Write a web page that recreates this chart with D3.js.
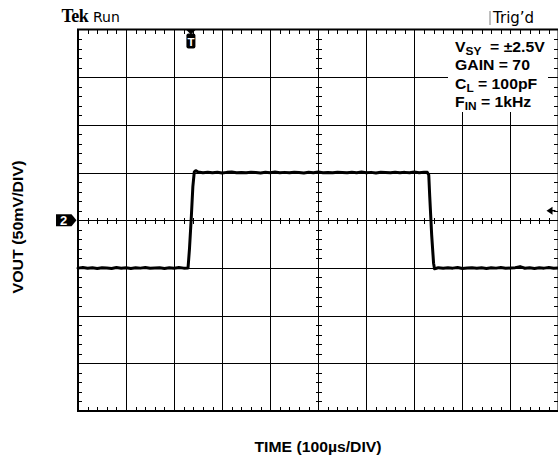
<!DOCTYPE html>
<html>
<head>
<meta charset="utf-8">
<script src="https://cdn.jsdelivr.net/npm/d3@7"></script>
<style>
  html, body { margin: 0; padding: 0; background: #fff; }
  svg { display: block; }
  text { white-space: pre; }
</style>
</head>
<body>
<div id="chart"></div>
<script>
// Scope screen: 10 horizontal divisions of 100 µs, 8 vertical divisions of 50 mV
const timeTicksUs = [0, 100, 200, 300, 400, 500, 600, 700, 800, 900, 1000];
const voltTicksMv = [-200, -150, -100, -50, 0, 50, 100, 150, 200];
const minorTimeStepUs = 20;
const minorVoltStepMv = 10;

// Captured output trace (time in µs, VOUT in mV)
const traceTimeUs = [
  0, 10, 20, 30, 40, 50, 60, 70, 80, 90, 100, 110, 120, 130, 140, 150, 160, 170, 180, 190, 200, 210, 220, 229,
  232, 236, 239, 242, 245, 250,
  260, 270, 280, 290, 300, 310, 320, 330, 340, 350, 360, 370, 380, 390, 400, 410, 420, 430, 440, 450,
  460, 470, 480, 490, 500, 510, 520, 530, 540, 550, 560, 570, 580, 590, 600, 610, 620, 630, 640, 650,
  660, 670, 680, 690, 700, 710, 720, 727,
  730, 732, 736, 740, 742, 746,
  750, 760, 770, 780, 790, 800, 810, 820, 830, 840, 850, 860, 870, 880, 890, 900, 910, 920, 930, 940,
  950, 960, 970, 980, 990, 1000
];
const traceMv = [
  -50.2, -49.6, -50.4, -49.8, -50.6, -49.7, -50.1, -50.5, -49.6, -50.3, -49.9, -50.6, -49.8, -50.2, -49.5, -50.4, -50.0, -49.7, -50.5, -49.9, -50.3, -49.6, -50.2, -50.0,
  -30, 5, 35, 50.8, 52.0, 50.6,
  49.8, 50.4, 49.9, 50.3, 49.6, 50.2, 50.5, 49.8, 50.1, 49.7, 50.4, 50.0, 49.6, 50.3, 49.9, 50.5, 49.8, 50.2, 49.7, 50.4,
  50.0, 49.6, 50.3, 49.9, 50.6, 49.8, 50.1, 49.7, 50.4, 50.0, 49.7, 50.3, 49.9, 50.5, 49.8, 50.2, 49.6, 50.3, 50.0, 49.8,
  50.4, 49.9, 50.2, 49.7, 50.5, 49.9, 50.3, 50.2,
  47.5, 25, -15, -45, -50.8, -50.3,
  -49.7, -50.4, -49.9, -50.2, -49.6, -50.5, -50.0, -49.7, -50.3, -49.9, -50.6, -49.8, -50.2, -49.6, -50.4, -50.0, -49.7, -48.6, -50.3, -49.8,
  -50.5, -49.9, -50.2, -49.6, -50.3, -50.0
];

const triggerTimeUs = 235;
const triggerLevelMv = 10;
const channelLabel = "2";

const statusLeft = ["Tek", "Run"];
const statusRight = "Trig’d";
const xAxisTitle = "TIME (100µs/DIV)";
const yAxisTitle = "VOUT (50mV/DIV)";
// Each condition line: main text, subscript, remainder
const conditionLines = [
  ["V", "SY", "  = ±2.5V"],
  ["GAIN = 70", "", ""],
  ["C", "L", " = 100pF"],
  ["F", "IN", " = 1kHz"]
];

const W = 558, H = 457;
const plot = { left: 78, right: 558.5, top: 29.5, bottom: 411 };

const svg = d3.select("#chart").append("svg")
  .attr("width", W).attr("height", H)
  .attr("viewBox", `0 0 ${W} ${H}`);

const x = d3.scaleLinear().domain([timeTicksUs[0], timeTicksUs[timeTicksUs.length - 1]]).range([plot.left, plot.right]);
const y = d3.scaleLinear().domain([voltTicksMv[0], voltTicksMv[voltTicksMv.length - 1]]).range([plot.bottom, plot.top]);

const snap = v => Math.round(v) + 0.5;

// Major graticule
const grid = svg.append("g").attr("stroke", "#000").attr("stroke-width", 1).attr("shape-rendering", "crispEdges");
grid.selectAll("line.v").data(timeTicksUs.slice(1, -1)).join("line")
  .attr("x1", d => snap(x(d))).attr("x2", d => snap(x(d)))
  .attr("y1", plot.top).attr("y2", plot.bottom);
grid.selectAll("line.h").data(voltTicksMv.slice(1, -1)).join("line")
  .attr("x1", plot.left).attr("x2", plot.right)
  .attr("y1", d => snap(y(d))).attr("y2", d => snap(y(d)));

// Minor ticks on center axes and along the border
const minorT = d3.range(timeTicksUs[0], timeTicksUs[timeTicksUs.length - 1] + 1, minorTimeStepUs)
  .filter(t => t % 100 !== 0);
const minorV = d3.range(voltTicksMv[0], voltTicksMv[voltTicksMv.length - 1] + 1, minorVoltStepMv)
  .filter(v => v % 50 !== 0);
const ticks = svg.append("g").attr("stroke", "#000").attr("stroke-width", 1.2).attr("shape-rendering", "crispEdges");
const cx = snap(x(500)), cy = snap(y(0));
minorT.forEach(t => {
  const px = snap(x(t));
  ticks.append("line").attr("x1", px).attr("x2", px).attr("y1", cy - 3).attr("y2", cy + 3);
  ticks.append("line").attr("x1", px).attr("x2", px).attr("y1", plot.top).attr("y2", plot.top + 4);
  ticks.append("line").attr("x1", px).attr("x2", px).attr("y1", plot.bottom - 4).attr("y2", plot.bottom);
});
minorV.forEach(v => {
  const py = snap(y(v));
  ticks.append("line").attr("x1", cx - 3).attr("x2", cx + 3).attr("y1", py).attr("y2", py);
  ticks.append("line").attr("x1", plot.left).attr("x2", plot.left + 4).attr("y1", py).attr("y2", py);
  ticks.append("line").attr("x1", plot.right - 5).attr("x2", plot.right).attr("y1", py).attr("y2", py);
});

// Border
svg.append("rect")
  .attr("x", plot.left).attr("y", plot.top)
  .attr("width", plot.right - plot.left).attr("height", plot.bottom - plot.top)
  .attr("fill", "none").attr("stroke", "#000").attr("stroke-width", 2);

// Conditions box (blanks the graticule behind it)
const box = svg.append("g");
box.append("rect").attr("x", 448).attr("y", 34).attr("width", 100).attr("height", 78).attr("fill", "#fff");
const baselines = [51.5, 70, 88.5, 106.5];
conditionLines.forEach((parts, i) => {
  const t = box.append("text")
    .attr("transform", `translate(455,${baselines[i]}) scale(1.08,1)`)
    .attr("font-family", "'Liberation Sans', Arial, sans-serif")
    .attr("font-weight", "bold").attr("font-size", 14.6).attr("fill", "#000");
  t.append("tspan").text(parts[0]);
  if (parts[1]) {
    t.append("tspan").attr("font-size", 11).attr("dy", 3.5).text(parts[1]);
    t.append("tspan").attr("font-size", 14.6).attr("dy", -3.5).text(parts[2]);
  }
});

// Output trace
const pts = traceTimeUs.map((t, i) => [t, traceMv[i]]);
svg.append("path")
  .datum(pts)
  .attr("d", d3.line().x(d => x(d[0])).y(d => y(d[1])))
  .attr("fill", "none").attr("stroke", "#000")
  .attr("stroke-width", 3).attr("stroke-linejoin", "round").attr("stroke-linecap", "round");

// Trigger position marker
const tx = x(triggerTimeUs);
svg.append("path")
  .attr("d", `M${tx - 5},${plot.top} L${tx + 5},${plot.top} L${tx},${plot.top + 5} Z`)
  .attr("fill", "#000");
svg.append("rect").attr("x", tx - 4.5).attr("y", plot.top + 4).attr("width", 9).attr("height", 15)
  .attr("rx", 2).attr("fill", "#000");
svg.append("text").attr("x", tx).attr("y", plot.top + 16.5)
  .attr("text-anchor", "middle")
  .attr("font-family", "'Liberation Sans', Arial, sans-serif").attr("font-weight", "bold")
  .attr("font-size", 11.5).attr("fill", "#fff").text("T");

// Trigger level arrow on the right edge
const ty = y(triggerLevelMv);
const ax = plot.right - 12;
svg.append("path")
  .attr("d", `M${ax},${ty} L${ax + 6},${ty - 4} L${ax + 6},${ty + 4} Z`)
  .attr("fill", "#000");
svg.append("line").attr("x1", ax + 5).attr("x2", ax + 9).attr("y1", ty).attr("y2", ty)
  .attr("stroke", "#000").attr("stroke-width", 1.5);

// Channel ground marker
const gy = y(0);
svg.append("path")
  .attr("d", `M56,${gy - 6} L71.5,${gy - 6} L76.5,${gy} L71.5,${gy + 6} L56,${gy + 6} Z`)
  .attr("fill", "#000");
svg.append("text").attr("x", 63.5).attr("y", gy + 4.8)
  .attr("text-anchor", "middle")
  .attr("font-family", "'Liberation Sans', Arial, sans-serif").attr("font-weight", "bold")
  .attr("font-size", 13).attr("fill", "#fff").text(channelLabel);

// Status line
svg.append("text").attr("x", 61.5).attr("y", 22)
  .attr("font-family", "'Liberation Serif', 'Times New Roman', serif").attr("font-weight", "bold")
  .attr("font-size", 18).attr("letter-spacing", -0.6).attr("fill", "#000").text(statusLeft[0]);
svg.append("text").attr("x", 93).attr("y", 22)
  .attr("font-family", "'DejaVu Sans', Verdana, sans-serif")
  .attr("font-size", 14).attr("fill", "#000").text(statusLeft[1]);
svg.append("line").attr("x1", 490).attr("x2", 490).attr("y1", 11).attr("y2", 25)
  .attr("stroke", "#aaa").attr("stroke-width", 1.5);
svg.append("text").attr("x", 493).attr("y", 23)
  .attr("font-family", "'DejaVu Sans', Verdana, sans-serif")
  .attr("font-size", 15).attr("fill", "#000").text(statusRight);

// Axis titles
svg.append("text")
  .attr("x", 318).attr("y", 452)
  .attr("text-anchor", "middle")
  .attr("font-family", "'Liberation Sans', Arial, sans-serif").attr("font-weight", "bold")
  .attr("font-size", 14).attr("textLength", 127).attr("lengthAdjust", "spacingAndGlyphs")
  .attr("fill", "#000").text(xAxisTitle);
svg.append("text")
  .attr("transform", `translate(22.5,227) rotate(-90)`)
  .attr("text-anchor", "middle")
  .attr("font-family", "'Liberation Sans', Arial, sans-serif").attr("font-weight", "bold")
  .attr("font-size", 14.5).attr("textLength", 133).attr("lengthAdjust", "spacingAndGlyphs")
  .attr("fill", "#000").text(yAxisTitle);
</script>
</body>
</html>
